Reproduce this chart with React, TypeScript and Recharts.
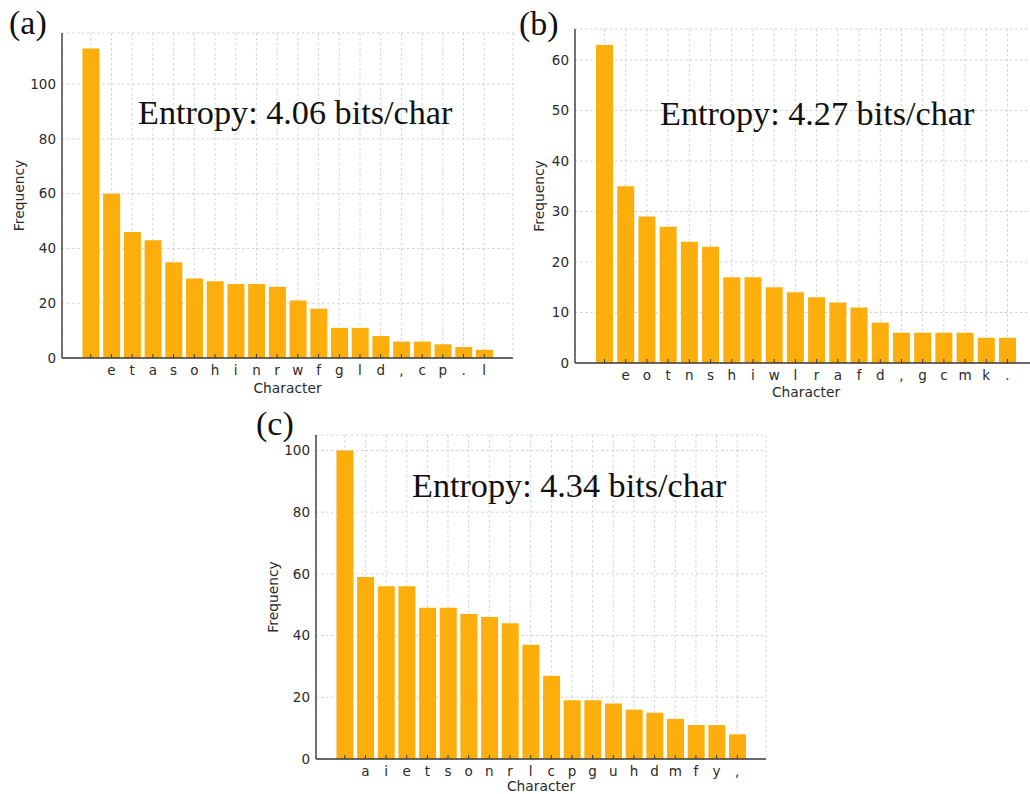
import { BarChart, Bar, XAxis, YAxis, CartesianGrid } from 'recharts';

// panel (a)
const CHARS_A = [' ', 'e', 't', 'a', 's', 'o', 'h', 'i', 'n', 'r', 'w', 'f', 'g', 'l', 'd', ',', 'c', 'p', '.', 'l'];
const FREQ_A = [113, 60, 46, 43, 35, 29, 28, 27, 27, 26, 21, 18, 11, 11, 8, 6, 6, 5, 4, 3];
const TICKS_A = [0, 20, 40, 60, 80, 100];

// panel (b)
const CHARS_B = [' ', 'e', 'o', 't', 'n', 's', 'h', 'i', 'w', 'l', 'r', 'a', 'f', 'd', ',', 'g', 'c', 'm', 'k', '.'];
const FREQ_B = [63, 35, 29, 27, 24, 23, 17, 17, 15, 14, 13, 12, 11, 8, 6, 6, 6, 6, 5, 5];
const TICKS_B = [0, 10, 20, 30, 40, 50, 60];

// panel (c)
const CHARS_C = [' ', 'a', 'i', 'e', 't', 's', 'o', 'n', 'r', 'l', 'c', 'p', 'g', 'u', 'h', 'd', 'm', 'f', 'y', ','];
const FREQ_C = [100, 59, 56, 56, 49, 49, 47, 46, 44, 37, 27, 19, 19, 18, 16, 15, 13, 11, 11, 8];
const TICKS_C = [0, 20, 40, 60, 80, 100];

const BAR_COLOR = '#FBAE0C';
const AXIS_COLOR = '#3a3a3a';
const SANS = '"DejaVu Sans", sans-serif';
const SERIF = '"Liberation Serif", "Times New Roman", serif';

interface PanelProps {
  chars: string[];
  freqs: number[];
  yTicks: number[];
  left: number;
  top: number;
  width: number;
  height: number;
  margin: { top: number; right: number; bottom: number; left: number };
  pad: number;
  xAxisHeight: number;
  xLabelOffset: number;
  yLabelOffset: number;
}

function FreqPanel(p: PanelProps) {
  const data = p.chars.map((ch, i) => ({ idx: i, ch, freq: p.freqs[i] }));
  // matplotlib-style 5% headroom above the tallest bar
  const yMax = Math.max(...p.freqs) * 1.05;
  const tickStyle = { fontSize: 13.5, fill: '#2a2a2a', fontFamily: SANS };

  return (
    <div style={{ position: 'absolute', left: p.left, top: p.top }}>
      <BarChart width={p.width} height={p.height} data={data} margin={p.margin} barCategoryGap="10%">
        <CartesianGrid stroke="#d2d2d2" strokeDasharray="2.5 2.5" />
        <Bar dataKey="freq" fill={BAR_COLOR} isAnimationActive={false} />
        <XAxis
          dataKey="idx"
          type="category"
          interval={0}
          padding={{ left: p.pad, right: p.pad }}
          tickFormatter={(i: number) => p.chars[i]}
          height={p.xAxisHeight}
          tickSize={-4}
          tickMargin={11}
          tick={tickStyle}
          axisLine={{ stroke: AXIS_COLOR, strokeWidth: 1.4 }}
          tickLine={{ stroke: AXIS_COLOR }}
          label={{
            value: 'Character',
            position: 'insideBottom',
            offset: p.xLabelOffset,
            style: { fontSize: 13.8, fill: '#2a2a2a', fontFamily: SANS },
          }}
        />
        <YAxis
          type="number"
          domain={[0, yMax]}
          ticks={p.yTicks}
          allowDataOverflow
          width={50}
          tickSize={0}
          tickMargin={6}
          tickLine={false}
          tick={tickStyle}
          axisLine={{ stroke: AXIS_COLOR, strokeWidth: 1.4 }}
          label={{
            value: 'Frequency',
            angle: -90,
            position: 'insideLeft',
            offset: p.yLabelOffset,
            style: { fontSize: 13.8, fill: '#2a2a2a', fontFamily: SANS, textAnchor: 'middle' },
          }}
        />
      </BarChart>
    </div>
  );
}

export default function App() {
  return (
    <div
      style={{
        position: 'absolute',
        left: 0,
        top: 0,
        width: 1030,
        height: 794,
        overflow: 'hidden',
        background: '#fff',
      }}
    >
      <FreqPanel
        chars={CHARS_A}
        freqs={FREQ_A}
        yTicks={TICKS_A}
        left={0}
        top={0}
        width={520}
        height={400}
        margin={{ top: 33, right: 7, bottom: 2, left: 12 }}
        pad={18.4}
        xAxisHeight={40}
        xLabelOffset={5}
        yLabelOffset={7}
      />
      <FreqPanel
        chars={CHARS_B}
        freqs={FREQ_B}
        yTicks={TICKS_B}
        left={510}
        top={0}
        width={530}
        height={410}
        margin={{ top: 29, right: 3, bottom: 7, left: 15 }}
        pad={18.9}
        xAxisHeight={40}
        xLabelOffset={6}
        yLabelOffset={14}
      />
      <FreqPanel
        chars={CHARS_C}
        freqs={FREQ_C}
        yTicks={TICKS_C}
        left={250}
        top={400}
        width={520}
        height={394}
        margin={{ top: 35, right: 4, bottom: 0, left: 16 }}
        pad={18.4}
        xAxisHeight={35}
        xLabelOffset={3}
        yLabelOffset={7}
      />
      <svg
        width={1030}
        height={794}
        style={{ position: 'absolute', left: 0, top: 0, pointerEvents: 'none' }}
      >
        <g fontFamily={SERIF} fill="#111">
          <text x={9} y={34} fontSize={34}>(a)</text>
          <text x={519} y={35} fontSize={34}>(b)</text>
          <text x={256} y={435} fontSize={34}>(c)</text>
          <text x={138} y={124} fontSize={34.2}>Entropy: 4.06 bits/char</text>
          <text x={660} y={125} fontSize={34.2}>Entropy: 4.27 bits/char</text>
          <text x={412} y={497} fontSize={34.2}>Entropy: 4.34 bits/char</text>
        </g>
      </svg>
    </div>
  );
}
